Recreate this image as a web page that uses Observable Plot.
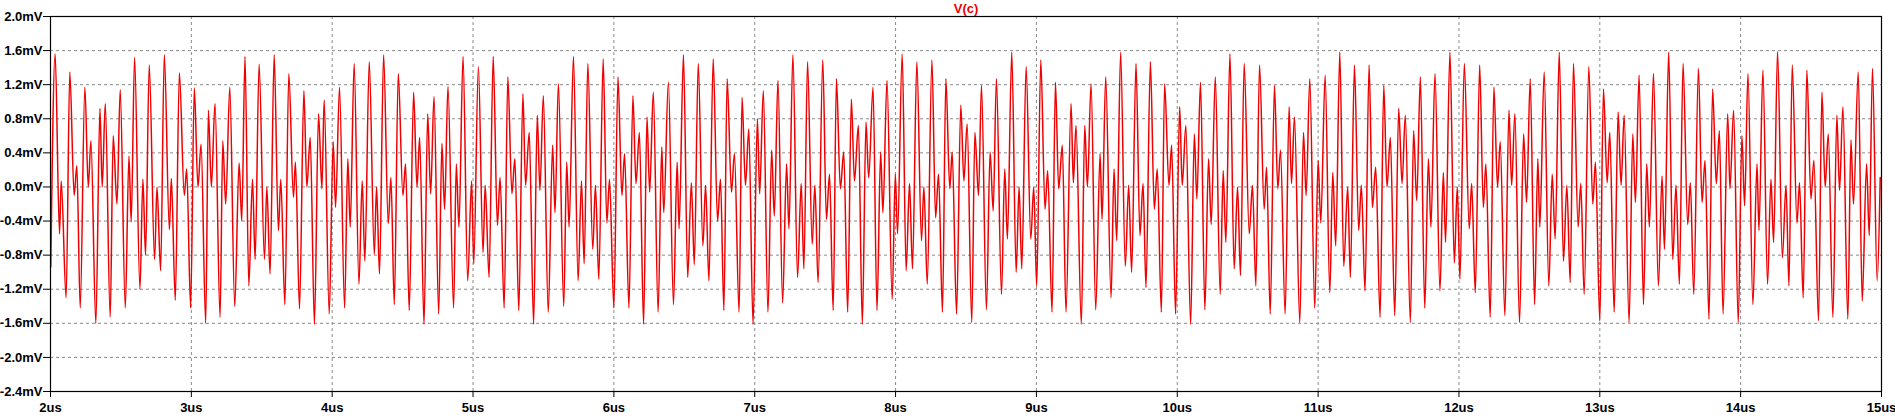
<!DOCTYPE html>
<html>
<head>
<meta charset="utf-8">
<script src="https://cdn.jsdelivr.net/npm/d3@7"></script>
<script src="https://cdn.jsdelivr.net/npm/@observablehq/plot@0.6"></script>
<style>
  html, body { margin: 0; padding: 0; background: #fff; }
  svg { display: block; }
</style>
</head>
<body>
<div id="chart"></div>
<script>
// ---- labels & ticks ----
const traceName = "V(c)";
const xTicks = [2, 3, 4, 5, 6, 7, 8, 9, 10, 11, 12, 13, 14, 15];          // us
const yTicks = [-2.4, -2.0, -1.6, -1.2, -0.8, -0.4, 0.0, 0.4, 0.8, 1.2, 1.6, 2.0]; // mV

// ---- trace V(c): time (us) and value (mV) (peaks / troughs) ----
const t1 = [2.002,2.033,2.064,2.076,2.111,2.137,2.168,2.187,2.211,2.244,2.268,2.287,2.322,2.351,2.367,2.389,2.424,2.445,2.472,2.495,2.531,2.557,2.573,2.597,2.635,2.656,2.675,2.701,2.739,2.756,2.782,2.808,2.844,2.858,2.886,2.915,2.950,2.967,2.995,3.021,3.047,3.069,3.102,3.121,3.142,3.168,3.204,3.223,3.244,3.273,3.308,3.339,3.358];
const v1 = [-0.94,1.56,-0.55,0.07,-1.30,1.35,-0.10,0.25,-1.42,1.17,0.00,0.54,-1.60,0.92,0.00,0.98,-1.53,0.60,-0.20,1.14,-1.42,0.36,-0.41,1.52,-1.20,0.09,-0.80,1.43,-0.85,0.00,-0.98,1.55,-0.50,0.10,-1.33,1.34,-0.10,0.21,-1.42,1.16,0.00,0.50,-1.60,0.90,0.00,0.98,-1.53,0.54,-0.20,1.17,-1.40,0.28,-0.40];

const t2 = [3.381,3.408,3.434,3.453,3.481,3.519,3.536,3.559,3.588,3.618,3.635,3.664,3.692,3.725,3.739,3.768,3.799,3.820,3.844,3.874,3.903,3.927,3.943,3.979,4.007,4.024,4.052,4.088,4.111,4.128,4.156,4.190,4.213,4.232,4.263,4.299,4.315,4.336,4.365,4.398,4.417,4.441,4.469,4.502,4.521,4.547,4.578,4.602,4.621,4.652,4.678,4.699,4.723,4.756];
const v2 = [1.53,-1.16,0.09,-0.85,1.44,-0.85,0.00,-1.02,1.55,-0.51,0.09,-1.38,1.33,-0.12,0.29,-1.43,1.13,0.00,0.58,-1.61,0.86,-0.02,1.02,-1.49,0.53,-0.24,1.17,-1.42,0.33,-0.47,1.45,-1.14,0.07,-0.87,1.47,-0.79,0.00,-1.02,1.55,-0.43,0.11,-1.38,1.33,-0.10,0.27,-1.45,1.11,0.00,0.58,-1.61,0.86,-0.08,1.06,-1.49];

const t3 = [4.779,4.798,4.822,4.862,4.881,4.900,4.929,4.962,4.990,5.005,5.038,5.071,5.086,5.114,5.143,5.173,5.192,5.221,5.247,5.276,5.297,5.325,5.354,5.373,5.399,5.430,5.456,5.475,5.499,5.534,5.565,5.582,5.606,5.644,5.665,5.682,5.713,5.746,5.770,5.789,5.815,5.850,5.869,5.893,5.924,5.950,5.969,6.000,6.029,6.057,6.076,6.107,6.135,6.157,6.181,6.211,6.235,6.254,6.280,6.314,6.340,6.354,6.387,6.423,6.449,6.463,6.494];
const v3 = [0.51,-0.26,1.18,-1.42,0.27,-0.47,1.53,-1.10,0.07,-0.90,1.41,-0.77,0.02,-1.06,1.53,-0.45,0.11,-1.42,1.29,-0.08,0.33,-1.45,1.09,0.02,0.64,-1.61,0.84,-0.04,1.07,-1.47,0.49,-0.30,1.21,-1.40,0.29,-0.47,1.53,-1.10,0.07,-0.90,1.45,-0.73,0.02,-1.08,1.50,-0.42,0.09,-1.42,1.29,-0.10,0.39,-1.42,1.07,0.04,0.64,-1.61,0.82,-0.06,1.11,-1.47,0.47,-0.30,1.23,-1.38,0.29,-0.49,1.55];

const t4 = [6.524,6.550,6.571,6.599,6.632,6.651,6.675,6.705,6.736,6.757,6.781,6.804,6.835,6.856,6.889,6.910,6.934,6.958,6.988,7.019,7.035,7.061,7.094,7.120,7.139,7.165,7.198,7.226,7.243,7.271,7.304,7.330,7.349,7.375,7.408,7.427,7.450,7.483,7.509,7.531,7.557,7.580,7.608,7.632,7.660,7.686,7.708,7.736,7.764,7.790,7.809,7.840,7.868,7.894,7.910,7.939,7.976,7.998,8.014,8.047,8.075,8.099,8.120,8.151,8.184];
const v4 = [-1.06,0.05,-0.91,1.45,-0.69,0.02,-1.10,1.50,-0.40,0.09,-1.45,1.27,-0.06,0.39,-1.47,1.05,0.02,0.68,-1.61,0.80,-0.08,1.13,-1.47,0.43,-0.34,1.25,-1.36,0.27,-0.49,1.55,-1.06,0.04,-0.96,1.47,-0.67,0.02,-1.12,1.49,-0.38,0.15,-1.45,1.27,-0.02,0.41,-1.47,1.03,0.07,0.72,-1.61,0.76,0.11,1.17,-1.45,0.41,-0.30,1.25,-1.32,0.15,-0.55,1.56,-0.98,0.04,-0.96,1.47,-0.63];

const t5 = [8.201,8.225,8.258,8.284,8.305,8.333,8.357,8.385,8.402,8.433,8.463,8.485,8.508,8.541,8.563,8.589,8.610,8.645,8.671,8.693,8.716,8.752,8.775,8.794,8.825,8.856,8.877,8.896,8.927,8.960,8.981,9.002,9.031,9.061,9.080,9.111,9.135,9.158,9.184,9.210,9.246,9.262,9.281,9.319,9.343,9.362,9.388,9.421,9.452,9.466,9.492,9.530,9.551,9.570,9.598,9.631,9.655,9.676,9.707,9.735,9.757,9.778,9.809,9.837,9.858,9.887];
const v5 = [0.00,-1.14,1.49,-0.36,0.15,-1.47,1.27,-0.02,0.41,-1.49,0.96,0.07,0.74,-1.59,0.64,-0.10,1.19,-1.44,0.41,-0.28,1.27,-1.26,0.21,-0.61,1.58,-1.00,0.00,-0.96,1.41,-0.61,0.00,-1.16,1.49,-0.26,0.19,-1.47,1.23,-0.02,0.49,-1.47,0.98,0.05,0.72,-1.61,0.72,0.00,1.21,-1.44,0.39,-0.38,1.29,-1.30,0.21,-0.63,1.58,-0.93,0.02,-1.00,1.45,-0.57,0.04,-1.18,1.47,-0.26,0.21,-1.47];

const t6 = [9.910,9.941,9.960,9.988,10.017,10.035,10.061,10.095,10.121,10.139,10.165,10.196,10.222,10.241,10.270,10.305,10.326,10.345,10.374,10.404,10.428,10.449,10.475,10.511,10.534,10.558,10.584,10.617,10.634,10.660,10.690,10.714,10.733,10.766,10.794,10.811,10.832,10.870,10.896,10.915,10.941,10.976,11.000,11.019,11.050,11.083,11.104,11.125,11.154,11.182,11.210,11.229,11.258,11.288,11.307,11.333,11.362,11.385,11.409,11.440,11.466,11.489,11.513,11.544,11.572,11.596];
const v6 = [1.21,0.02,0.49,-1.49,0.94,0.02,0.72,-1.61,0.62,-0.14,1.23,-1.44,0.33,-0.44,1.29,-1.26,0.19,-0.65,1.56,-0.96,0.00,-1.04,1.45,-0.55,0.02,-1.16,1.43,-0.26,0.23,-1.49,1.19,-0.02,0.43,-1.49,0.94,0.04,0.82,-1.59,0.64,-0.10,1.27,-1.42,0.31,-0.42,1.31,-1.24,0.17,-0.69,1.58,-0.93,0.00,-1.06,1.43,-0.51,0.02,-1.22,1.43,-0.24,0.23,-1.53,1.19,0.00,0.58,-1.51,0.92,0.04];

const t7 = [11.619,11.655,11.678,11.700,11.726,11.757,11.783,11.801,11.830,11.865,11.889,11.905,11.936,11.967,11.988,12.007,12.038,12.073,12.090,12.116,12.147,12.173,12.191,12.222,12.248,12.274,12.293,12.326,12.355,12.374,12.397,12.430,12.459,12.480,12.506,12.537,12.560,12.574,12.605,12.638,12.662,12.683,12.712,12.742,12.766,12.790,12.813,12.846,12.865,12.889,12.922,12.950,12.969,13.000,13.026,13.052,13.071,13.102,13.130,13.151,13.173,13.208,13.234,13.253,13.279,13.310];
const v7 = [0.84,-1.59,0.66,-0.16,1.29,-1.42,0.33,-0.47,1.33,-1.22,0.17,-0.65,1.58,-0.89,0.00,-1.08,1.45,-0.49,0.04,-1.24,1.43,-0.24,0.27,-1.53,1.17,0.00,0.53,-1.51,0.90,0.02,0.86,-1.59,0.62,-0.18,1.27,-1.38,0.33,-0.47,1.35,-1.16,0.15,-0.61,1.58,-0.87,0.02,-1.12,1.45,-0.47,0.04,-1.26,1.41,-0.20,0.29,-1.57,1.15,0.05,0.64,-1.47,0.88,0.02,0.84,-1.59,0.62,-0.18,1.31,-1.38];

const t8 = [13.333,13.352,13.381,13.416,13.442,13.459,13.489,13.518,13.541,13.565,13.591,13.624,13.643,13.667,13.700,13.726,13.747,13.775,13.801,13.827,13.849,13.875,13.908,13.924,13.950,13.983,14.009,14.028,14.052,14.087,14.116,14.130,14.158,14.191,14.215,14.234,14.262,14.296,14.322,14.343,14.366,14.400,14.418,14.444,14.470,14.499,14.520,14.553,14.577,14.600,14.622,14.655,14.683,14.702,14.726,14.761,14.783,14.801,14.835,14.863,14.894,14.913,14.936,14.969,14.991];
const v8 = [0.27,-0.47,1.33,-1.16,0.13,-0.73,1.58,-0.85,0.02,-1.14,1.45,-0.44,0.05,-1.26,1.39,-0.18,0.31,-1.55,1.15,0.04,0.66,-1.49,0.86,-0.02,0.90,-1.59,0.60,-0.22,1.33,-1.38,0.27,-0.51,1.37,-1.14,0.09,-0.65,1.59,-0.83,0.02,-1.16,1.43,-0.42,0.05,-1.30,1.37,-0.14,0.31,-1.57,1.11,0.00,0.62,-1.53,0.84,-0.04,0.94,-1.55,0.55,-0.20,1.35,-1.34,0.27,-0.57,1.39,-1.10,0.11];

const timeUs = [].concat(t1, t2, t3, t4, t5, t6, t7, t8);
const vcMilliVolt = [].concat(v1, v2, v3, v4, v5, v6, v7, v8);
const trace = timeUs.map((t, i) => ({t, v: vcMilliVolt[i]}));

const gridStyle = {stroke: "#8a8a8a", strokeWidth: 1, strokeDasharray: "3,3"};

const chart = Plot.plot({
  width: 1895,
  height: 420,
  marginLeft: 50,
  marginRight: 14,
  marginTop: 16,
  marginBottom: 29,
  style: {
    fontFamily: "'Liberation Sans', Arial, sans-serif",
    fontSize: "13px",
    fontWeight: "bold",
    color: "#000",
    background: "#fff",
    overflow: "visible"
  },
  x: {domain: [2, 15]},
  y: {domain: [-2.4, 2.0]},
  marks: [
    Plot.ruleX(xTicks.slice(1, -1), gridStyle),
    Plot.ruleY(yTicks.slice(1, -1), gridStyle),
    Plot.line(trace, {x: "t", y: "v", stroke: "#f00000", strokeWidth: 1.5, curve: "monotone-x", clip: true}),
    Plot.frame({stroke: "#000", strokeWidth: 1.2}),
    Plot.axisX({ticks: xTicks, tickFormat: d => d + "us", tickSize: 6, tickPadding: 5, label: null, fontWeight: "bold", fontSize: 13}),
    Plot.axisY({ticks: yTicks, tickFormat: d => d.toFixed(1) + "mV", tickSize: 7, tickPadding: 1, label: null, fontWeight: "bold", fontSize: 13}),
    Plot.text([traceName], {frameAnchor: "top", lineAnchor: "middle", dy: -8, fill: "#f00000", fontWeight: "bold", fontSize: 13})
  ]
});
document.getElementById("chart").appendChild(chart);
</script>
</body>
</html>
